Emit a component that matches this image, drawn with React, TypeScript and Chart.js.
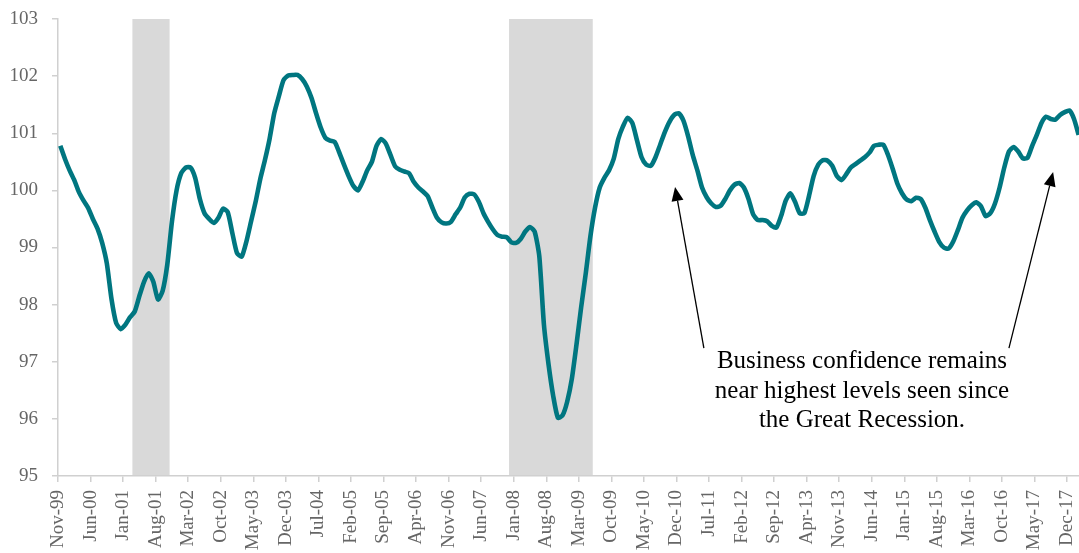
import React, { useEffect, useRef } from "react";
import { Chart, registerables } from "chart.js";

Chart.register(...registerables);

const MONTH_NAMES = ["Jan", "Feb", "Mar", "Apr", "May", "Jun", "Jul", "Aug", "Sep", "Oct", "Nov", "Dec"];
const FIRST_YEAR = 1999;
const FIRST_MONTH = 10; // Nov

// Monthly business confidence index, Nov-99 .. Feb-18
const confidenceIndex: number[] = [
  100.78, 100.55, 100.35, 100.18, 99.97, 99.82, 99.69, 99.5, 99.33, 99.08,
  98.72, 98.1, 97.68, 97.57, 97.65, 97.78, 97.88, 98.15, 98.4, 98.55,
  98.4, 98.09, 98.24, 98.7, 99.45, 100.0, 100.3, 100.4, 100.4, 100.22,
  99.85, 99.6, 99.5, 99.43, 99.52, 99.68, 99.62, 99.25, 98.9, 98.84,
  99.1, 99.45, 99.8, 100.2, 100.53, 100.9, 101.35, 101.65, 101.93, 102.01,
  102.02, 102.02, 101.95, 101.82, 101.62, 101.35, 101.1, 100.92, 100.87, 100.85,
  100.66, 100.45, 100.25, 100.08, 100.0, 100.15, 100.35, 100.5, 100.78, 100.9,
  100.82, 100.62, 100.42, 100.36, 100.33, 100.3, 100.15, 100.05, 99.98, 99.9,
  99.7, 99.52, 99.44, 99.42, 99.45, 99.58, 99.7, 99.88, 99.94, 99.93,
  99.8, 99.6, 99.45, 99.32, 99.22, 99.19, 99.18, 99.09, 99.08, 99.15,
  99.28, 99.36, 99.28, 98.85, 97.65, 96.95, 96.4, 96.02, 96.06, 96.3,
  96.7, 97.3, 97.95, 98.55, 99.2, 99.7, 100.05, 100.22, 100.35, 100.55,
  100.9, 101.12, 101.27, 101.18, 100.88, 100.58, 100.45, 100.43, 100.58, 100.8,
  101.02, 101.2, 101.32, 101.35, 101.22, 100.95, 100.62, 100.35, 100.05, 99.88,
  99.77, 99.71, 99.73, 99.85, 100.0, 100.1, 100.13, 100.05, 99.85, 99.58,
  99.48, 99.48, 99.46, 99.38, 99.35, 99.55, 99.82, 99.95, 99.8, 99.6,
  99.6, 99.9, 100.25, 100.45, 100.53, 100.52, 100.43, 100.25, 100.18, 100.28,
  100.4, 100.46, 100.52, 100.58, 100.66, 100.78, 100.8, 100.8, 100.62, 100.38,
  100.12, 99.95, 99.84, 99.81, 99.87, 99.85, 99.7, 99.48, 99.28, 99.1,
  99.0, 98.98, 99.1, 99.3, 99.52, 99.65, 99.74, 99.79, 99.72, 99.55,
  99.6, 99.77, 100.05, 100.4, 100.68, 100.76, 100.68, 100.56, 100.57, 100.78,
  100.97, 101.18, 101.29, 101.25, 101.24, 101.32, 101.37, 101.4, 101.25, 100.97,
];

const months: string[] = confidenceIndex.map((_, i) => {
  const m = FIRST_MONTH + i;
  const y = FIRST_YEAR + Math.floor(m / 12);
  return `${MONTH_NAMES[m % 12]}-${String(y % 100).padStart(2, "0")}`;
});

const TICK_STEP = 7;
const tickMonths: string[] = months.filter((_, i) => i % TICK_STEP === 0);

const recessions: [string, string][] = [
  ["Mar-01", "Oct-01"],
  ["Dec-07", "May-09"],
];

const Y_MIN = 95;
const Y_MAX = 103;

const noteLines = ["Business confidence remains", "near highest levels seen since", "the Great Recession."];
// annotation anchors in data units (x: month index, y: index value)
const noteCenterX = 172.4;
const noteBaselines = [96.89, 96.365, 95.86];
const arrows: { from: [number, number]; to: [number, number] }[] = [
  { from: [138.4, 97.24], to: [132.2, 100.06] },
  { from: [204.0, 97.24], to: [213.5, 100.32] },
];

const FONT = "'Liberation Serif', 'Times New Roman', serif";
const LINE_COLOR = "#007680";
const AXIS_COLOR = "#d0d0d0";
const TEXT_COLOR = "#666666";

const recessionPlugin = {
  id: "recessionShading",
  beforeDatasetsDraw(chart: any) {
    const { ctx, chartArea, scales } = chart;
    const x = scales.x;
    ctx.save();
    ctx.fillStyle = "#d9d9d9";
    recessions.forEach(([s, e]) => {
      const i0 = months.indexOf(s);
      const i1 = months.indexOf(e);
      const x0 = x.getPixelForValue(i0 - 0.5);
      const x1 = x.getPixelForValue(i1 + 0.5);
      ctx.fillRect(x0, chartArea.top, x1 - x0, chartArea.bottom - chartArea.top - 1);
    });
    ctx.restore();
  },
};

function drawArrow(ctx: CanvasRenderingContext2D, x0: number, y0: number, x1: number, y1: number) {
  const ang = Math.atan2(y1 - y0, x1 - x0);
  const len = 14;
  const half = 6;
  const bx = x1 - len * Math.cos(ang);
  const by = y1 - len * Math.sin(ang);
  ctx.beginPath();
  ctx.moveTo(x0, y0);
  ctx.lineTo(bx, by);
  ctx.stroke();
  ctx.beginPath();
  ctx.moveTo(x1, y1);
  ctx.lineTo(bx + half * Math.sin(ang), by - half * Math.cos(ang));
  ctx.lineTo(bx - half * Math.sin(ang), by + half * Math.cos(ang));
  ctx.closePath();
  ctx.fill();
}

const notePlugin = {
  id: "note",
  afterDatasetsDraw(chart: any) {
    const { ctx, scales } = chart;
    const x = scales.x;
    const y = scales.y;
    ctx.save();
    ctx.strokeStyle = "#000";
    ctx.fillStyle = "#000";
    ctx.lineWidth = 1.3;
    arrows.forEach((a) => {
      drawArrow(
        ctx,
        x.getPixelForValue(a.from[0]),
        y.getPixelForValue(a.from[1]),
        x.getPixelForValue(a.to[0]),
        y.getPixelForValue(a.to[1])
      );
    });
    ctx.font = `25px ${FONT}`;
    ctx.textAlign = "center";
    ctx.textBaseline = "alphabetic";
    const cx = x.getPixelForValue(noteCenterX);
    noteLines.forEach((line, i) => {
      ctx.fillText(line, cx, y.getPixelForValue(noteBaselines[i]));
    });
    ctx.restore();
  },
};

export default function App() {
  const ref = useRef<HTMLCanvasElement>(null);
  useEffect(() => {
    document.body.style.margin = "0";
    document.body.style.overflow = "hidden";
    document.documentElement.style.overflow = "hidden";
    const chart = new Chart(ref.current as HTMLCanvasElement, {
      type: "line",
      data: {
        datasets: [
          {
            data: confidenceIndex.map((v, i) => ({ x: i, y: v })),
            borderColor: LINE_COLOR,
            borderWidth: 4.6,
            pointRadius: 0,
            tension: 0.2,
            fill: false,
            borderJoinStyle: "round",
            borderCapStyle: "butt",
          },
        ],
      },
      options: {
        animation: false,
        responsive: false,
        devicePixelRatio: 1,
        layout: { padding: { top: 19, right: 0, left: 0, bottom: 0 } },
        plugins: {
          legend: { display: false },
          tooltip: { enabled: false },
          title: { display: false },
        },
        scales: {
          x: {
            type: "linear",
            min: -0.5,
            max: months.length - 0.5,
            afterBuildTicks: (s: any) => {
              s.ticks = tickMonths.map((m) => ({ value: months.indexOf(m) - 0.5 }));
            },
            afterFit: (s: any) => {
              s.height = 77;
              s.paddingLeft = 0;
              s.paddingRight = 0;
              s.paddingTop = 0;
              s.paddingBottom = 0;
            },
            grid: { drawOnChartArea: false, drawTicks: true, tickLength: 6, color: AXIS_COLOR, lineWidth: 1.5 },
            border: { display: true, color: AXIS_COLOR, width: 1.5 },
            ticks: {
              autoSkip: false,
              maxRotation: 90,
              minRotation: 90,
              padding: 8,
              color: TEXT_COLOR,
              font: { family: FONT, size: 19 },
              callback: (v: any) => months[Math.round(Number(v) + 0.5)] ?? "",
            },
          },
          y: {
            min: Y_MIN,
            max: Y_MAX,
            afterFit: (s: any) => {
              s.width = 58;
              s.paddingTop = 0;
              s.paddingBottom = 0;
              s.paddingLeft = 0;
              s.paddingRight = 0;
            },
            grid: { drawOnChartArea: false, drawTicks: true, tickLength: 6, color: AXIS_COLOR, lineWidth: 1.5 },
            border: { display: true, color: AXIS_COLOR, width: 1.5 },
            ticks: {
              stepSize: 1,
              padding: 14,
              color: TEXT_COLOR,
              font: { family: FONT, size: 19 },
            },
          },
        },
      } as any,
      plugins: [recessionPlugin, notePlugin],
    });
    return () => chart.destroy();
  }, []);
  return (
    <div style={{ width: 1081, height: 553, overflow: "hidden" }}>
      <canvas ref={ref} width={1081} height={553} style={{ display: "block" }} />
    </div>
  );
}
